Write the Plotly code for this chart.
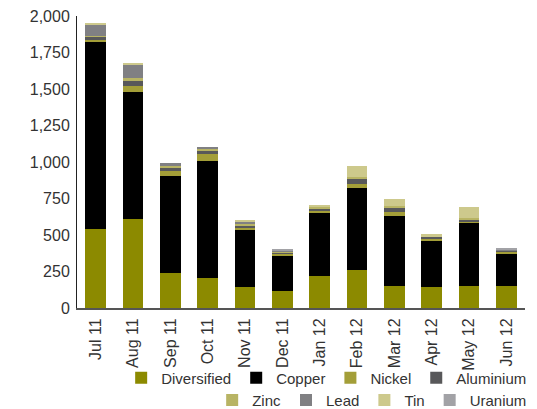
import plotly.graph_objects as go

months = ["Jul 11", "Aug 11", "Sep 11", "Oct 11", "Nov 11", "Dec 11",
          "Jan 12", "Feb 12", "Mar 12", "Apr 12", "May 12", "Jun 12"]

diversified = [544, 612, 237, 203, 142, 115, 217, 258, 149, 142, 149, 149]
copper      = [1275, 866, 665, 807, 393, 244, 434, 562, 481, 319, 434, 226]
nickel      = [20, 41, 34, 47, 14, 14, 20, 27, 27, 14, 7, 7]
aluminium   = [20, 34, 20, 20, 14, 7, 7, 34, 27, 14, 17, 14]
zinc        = [7, 20, 20, 14, 14, 7, 14, 14, 14, 0, 7, 0]
lead        = [75, 88, 14, 14, 14, 7, 0, 0, 0, 0, 0, 7]
tin         = [14, 20, 0, 0, 7, 0, 14, 81, 47, 20, 81, 0]
uranium     = [0, 0, 0, 0, 0, 7, 0, 0, 0, 0, 0, 7]

series = [
    ("Diversified", diversified, "#8c8a00", "legend"),
    ("Copper", copper, "#000000", "legend"),
    ("Nickel", nickel, "#a39e38", "legend"),
    ("Aluminium", aluminium, "#58585a", "legend"),
    ("Zinc", zinc, "#b8b464", "legend2"),
    ("Lead", lead, "#808083", "legend2"),
    ("Tin", tin, "#cdc98c", "legend2"),
    ("Uranium", uranium, "#a2a2a6", "legend2"),
]

fig = go.Figure()
for name, vals, color, leg in series:
    fig.add_trace(go.Bar(x=months, y=vals, name=name, marker_color=color,
                         marker_line_width=0, legend=leg))

tickfont = dict(family="Liberation Sans, Arial, sans-serif", size=16, color="#333333")
legfont = dict(family="Liberation Sans, Arial, sans-serif", size=15, color="#333333")
fig.update_layout(
    barmode="stack",
    bargap=0.45,
    width=529, height=401,
    margin=dict(l=69, r=12, t=8, b=101, autoexpand=False),
    paper_bgcolor="white", plot_bgcolor="white",
    font=tickfont,
    legend=dict(orientation="h", x=1.016, xanchor="right", y=-0.240, yanchor="middle",
                font=legfont, traceorder="normal", itemwidth=30,
                bgcolor="rgba(0,0,0,0)"),
    legend2=dict(orientation="h", x=1.016, xanchor="right", y=-0.316, yanchor="middle",
                 font=legfont, traceorder="normal", itemwidth=30,
                 bgcolor="rgba(0,0,0,0)"),
)
fig.update_xaxes(tickangle=-90, showline=True, linecolor="#555555", linewidth=2,
                 showgrid=False, ticks="", tickfont=tickfont, ticklabelstandoff=2)
fig.update_yaxes(range=[0, 2000], dtick=250, tickformat=",", showline=True,
                 linecolor="#222222", linewidth=1, showgrid=False, zeroline=False,
                 ticks="", tickfont=tickfont, ticklabelstandoff=3,
                 ticklabeloverflow="allow")

fig.write_html("out.html")
